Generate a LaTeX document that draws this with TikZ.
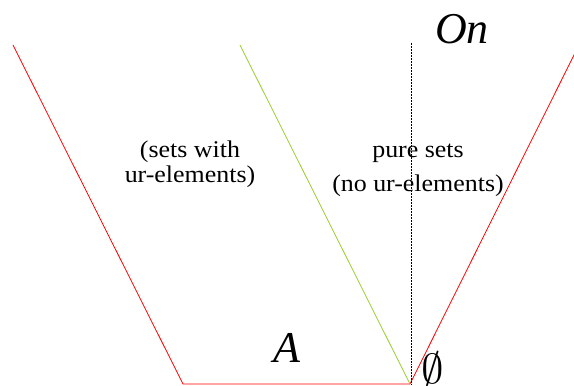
\documentclass[tikz,border=0pt]{standalone}
\usepackage{fontspec}
\setmainfont{Liberation Serif}
\newfontfamily\lblfont{Liberation Serif}[FakeStretch=1.08]
\usepackage{tikz}
\usetikzlibrary{positioning,calc}
\definecolor{UR}{HTML}{9ACD32}

\tikzset{
  edge/.style={draw=red, line width=0.8pt},
  urline/.style={draw=UR, line width=0.8pt},
  axis/.style={draw=black, line width=0.5pt, densely dotted},
  region/.style={align=center, inner sep=0pt,
    font=\lblfont\fontsize{24}{25}\selectfont},
  big/.style={inner sep=0pt, font=\itshape\fontsize{44}{48}\selectfont}
}

\begin{document}
\begin{tikzpicture}[x=1pt,y=1pt]
        \useasboundingbox (0,0) rectangle (574,386);
        \begin{scope}
          \clip (0,0) rectangle (574,386);
          \coordinate (lt) at (13,341);
          \coordinate (lb) at (183,2);
          \coordinate (zero) at (410,2);
          \coordinate (rt) at (579,341);
          \coordinate (gt) at (240,341);
          \coordinate (ot) at (411,343);
          \coordinate (ob) at (411,2);
          \draw[edge] (lt) -- (lb) -- (zero) -- (rt);
          \draw[urline] (gt) -- (zero);
          \draw[axis] (ot) -- (ob);
        \end{scope}
        \node[big, anchor=base] (on) at (462,342) {On};
        \node[big, anchor=base] (a) at (287,23) {A};
        \node[inner sep=0pt, anchor=base] (empty) at (433,2.3)
          {\scalebox{4.5}[4.2]{$\emptyset$}};
        \node[region, anchor=base] (ursets) at (190,203)
          {(sets with\\ur-elements)};
        \node[region, anchor=base] (pure) at (418,194)
          {pure sets\\[9pt](no ur-elements)};
      \end{tikzpicture}
\end{document}
